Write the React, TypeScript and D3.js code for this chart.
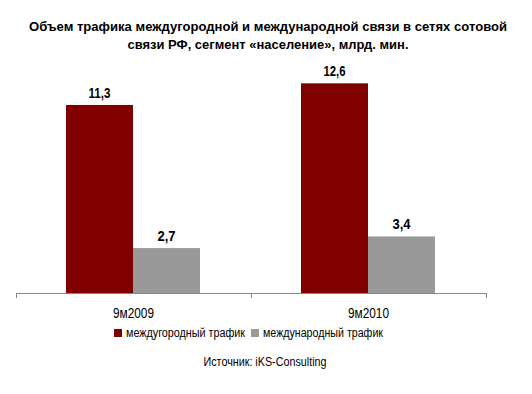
import { useEffect, useRef } from "react";
import * as d3 from "d3";

// chart data
const categories = ["9м2009", "9м2010"];
const seriesNames = ["междугородный трафик", "международный трафик"];
const longDistance = [11.3, 12.6];
const international = [2.7, 3.4];
const titleLines = [
  "Объем трафика междугородной и международной связи в сетях сотовой",
  "связи РФ, сегмент «население», млрд. мин.",
];
const sourceText = "Источник: iKS-Consulting";

const colors = ["#800000", "#999999"];
// the original uses a narrow Arial; fit Liberation Sans to the measured widths
const FONT = "'Liberation Sans', Arial, sans-serif";

export default function App() {
  const svgRef = useRef<SVGSVGElement | null>(null);

  useEffect(() => {
    if (!svgRef.current) return;
    const width = 532;
    const height = 394;
    const svg = d3.select(svgRef.current).attr("width", width).attr("height", height);
    svg.selectAll("*").remove();

    svg.append("rect").attr("width", width).attr("height", height).attr("fill", "#ffffff");

    // title
    const titleY = [31, 49];
    const titleW = [478, 281];
    titleLines.forEach((line, i) => {
      svg
        .append("text")
        .attr("x", 268)
        .attr("y", titleY[i])
        .attr("text-anchor", "middle")
        .attr("font-family", FONT)
        .attr("font-weight", "bold")
        .attr("font-size", 13)
        .attr("textLength", titleW[i])
        .attr("lengthAdjust", "spacingAndGlyphs")
        .attr("fill", "#000")
        .text(line);
    });

    const baseline = 293;
    const x0 = d3.scaleBand().domain(categories).range([16, 486]);
    const x1 = d3.scaleBand().domain(seriesNames).range([50, 184]);
    const y = d3.scaleLinear().domain([0, 14]).range([baseline, baseline - 14 * 16.64]);

    const rows = categories.map((c, i) => ({
      cat: c,
      values: [
        { key: seriesNames[0], value: longDistance[i] },
        { key: seriesNames[1], value: international[i] },
      ],
    }));

    const groups = svg
      .selectAll(".grp")
      .data(rows)
      .join("g")
      .attr("class", "grp")
      .attr("transform", (d) => `translate(${x0(d.cat)},0)`);

    groups
      .selectAll("rect")
      .data((d) => d.values)
      .join("rect")
      .attr("x", (d) => x1(d.key)!)
      .attr("width", x1.bandwidth())
      .attr("y", (d) => y(d.value))
      .attr("height", (d) => baseline - y(d.value))
      .attr("fill", (d, i) => colors[i]);

    groups
      .selectAll("text.val")
      .data((d) => d.values)
      .join("text")
      .attr("class", "val")
      .attr("x", (d) => x1(d.key)! + x1.bandwidth() / 2)
      .attr("y", (d) => y(d.value) - 7)
      .attr("text-anchor", "middle")
      .attr("font-family", FONT)
      .attr("font-weight", "bold")
      .attr("font-size", 14)
      .attr("textLength", (d) => (d.value >= 10 ? 22 : 18))
      .attr("lengthAdjust", "spacingAndGlyphs")
      .attr("fill", "#000")
      .text((d) => d.value.toFixed(1).replace(".", ","));

    // axis
    const axisColor = "#868686";
    svg
      .append("line")
      .attr("x1", 16)
      .attr("x2", 486)
      .attr("y1", baseline + 0.5)
      .attr("y2", baseline + 0.5)
      .attr("stroke", axisColor);
    const tickXs = [...categories.map((c) => x0(c)!), 486];
    svg
      .selectAll(".tick")
      .data(tickXs)
      .join("line")
      .attr("class", "tick")
      .attr("x1", (d) => d + 0.5)
      .attr("x2", (d) => d + 0.5)
      .attr("y1", baseline)
      .attr("y2", baseline + 5)
      .attr("stroke", axisColor);

    svg
      .selectAll(".cat")
      .data(categories)
      .join("text")
      .attr("class", "cat")
      .attr("x", (d) => x0(d)! + x0.bandwidth() / 2)
      .attr("y", 318)
      .attr("text-anchor", "middle")
      .attr("font-family", FONT)
      .attr("font-size", 15)
      .attr("textLength", 41)
      .attr("lengthAdjust", "spacingAndGlyphs")
      .attr("fill", "#000")
      .text((d) => d);

    // legend
    const legendX = [114, 251];
    const legendW = [119, 120];
    seriesNames.forEach((name, i) => {
      svg
        .append("rect")
        .attr("x", legendX[i])
        .attr("y", 329)
        .attr("width", 8)
        .attr("height", 8)
        .attr("fill", colors[i]);
      svg
        .append("text")
        .attr("x", legendX[i] + 12)
        .attr("y", 337)
        .attr("font-family", FONT)
        .attr("font-size", 12)
        .attr("textLength", legendW[i])
        .attr("lengthAdjust", "spacingAndGlyphs")
        .attr("fill", "#000")
        .text(name);
    });

    svg
      .append("text")
      .attr("x", 265)
      .attr("y", 366)
      .attr("text-anchor", "middle")
      .attr("font-family", FONT)
      .attr("font-size", 13)
      .attr("textLength", 123)
      .attr("lengthAdjust", "spacingAndGlyphs")
      .attr("fill", "#000")
      .text(sourceText);
  }, []);

  return (
    <div style={{ position: "fixed", left: 0, top: 0 }}>
      <svg ref={svgRef} style={{ display: "block" }}></svg>
    </div>
  );
}
